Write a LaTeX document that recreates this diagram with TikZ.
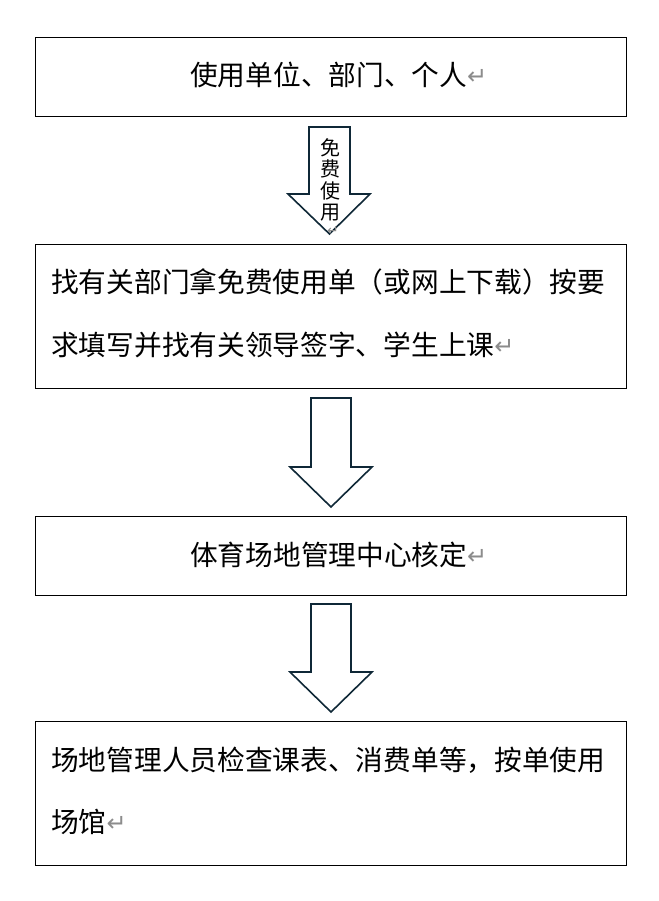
\documentclass[tikz,border=0pt]{standalone}
\usepackage{fontspec}
\newfontfamily\cjk{Noto Sans CJK SC}
\newfontfamily\symf{DejaVu Sans}
\definecolor{arrowc}{RGB}{15,40,55}
\definecolor{markc}{RGB}{140,140,140}
\newcommand\retmark{{\symf\color{markc}\fontsize{24}{24}\selectfont\raisebox{1pt}{↵}}}
\begin{document}
\begin{tikzpicture}[x=1pt,y=-1pt,
  box/.style={draw=black, line width=1pt, anchor=north west, inner sep=0pt, minimum width=591pt},
  txt/.style={font=\cjk\fontsize{27.7}{27.7}\selectfont, inner sep=0pt},
  arr/.style={draw=arrowc, line width=1.6pt, fill=white, line join=miter}]
\useasboundingbox[fill=white] (0,0) rectangle (658,901);
% boxes
\node[box, minimum height=79pt] (b1) at (35,37) {};
\node[box, minimum height=144pt] (b2) at (35,244) {};
\node[box, minimum height=79pt] (b3) at (35,516) {};
\node[box, minimum height=144pt] (b4) at (35,721) {};
% texts
\node[txt, anchor=west] (t1) at (190,75) {使用单位、部门、个人\retmark};
\node[txt, anchor=west] (t2a) at (51,282) {找有关部门拿免费使用单（或网上下载）按要};
\node[txt, anchor=west] (t2b) at (51,345) {求填写并找有关领导签字、学生上课\retmark};
\node[txt, anchor=west] (t3) at (190,555) {体育场地管理中心核定\retmark};
\node[txt, anchor=west] (t4a) at (51,760) {场地管理人员检查课表、消费单等，按单使用};
\node[txt, anchor=west] (t4b) at (51,822) {场馆\retmark};
% arrows
\draw[arr] (309,127) -- (350,127) -- (350,194) -- (370,194) -- (329.5,234) -- (288,194) -- (309,194) -- cycle;
\draw[arr] (311,398) -- (351,398) -- (351,467) -- (372,467) -- (331,507) -- (290,467) -- (311,467) -- cycle;
\draw[arr] (311,604) -- (351,604) -- (351,672) -- (372,672) -- (331,712) -- (290,672) -- (311,672) -- cycle;
% vertical label
\node[align=center, inner sep=0pt, font=\cjk\fontsize{20}{21.5}\selectfont] (lab) at (330,180) {免\\费\\使\\用};
\node[inner sep=0pt, font=\symf\fontsize{14}{14}\selectfont, text=markc] (labm) at (333,231) {↵};
\end{tikzpicture}
\end{document}
